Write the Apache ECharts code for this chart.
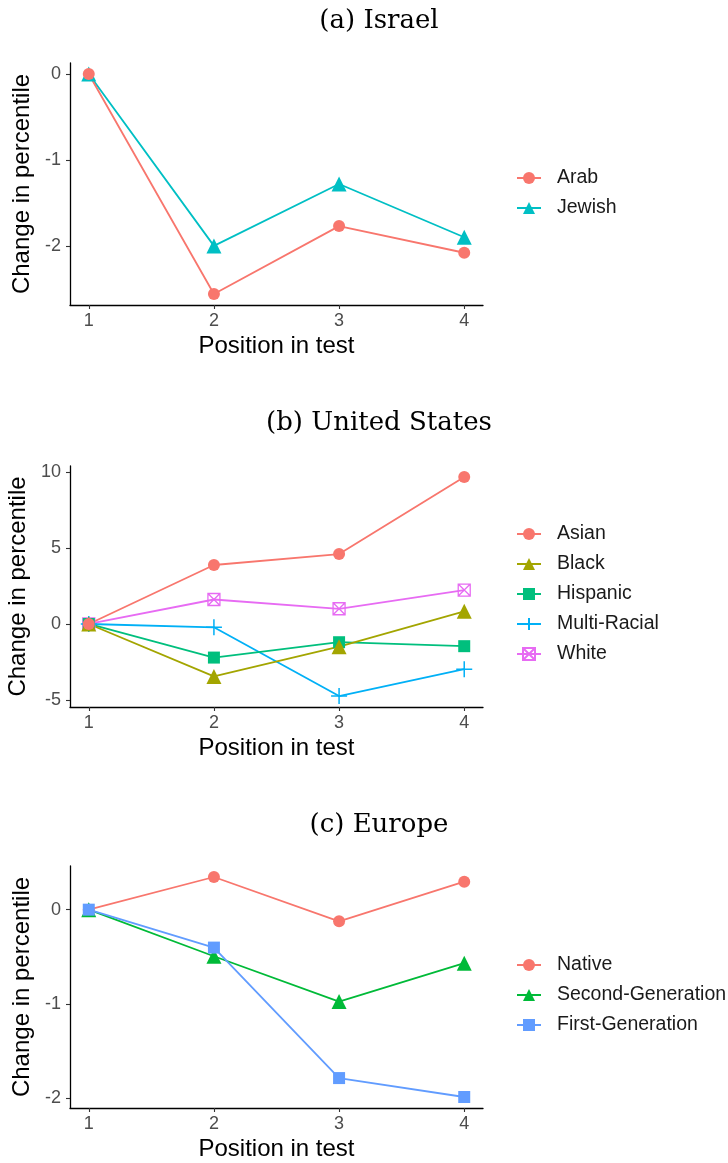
<!DOCTYPE html>
<html>
<head>
<meta charset="utf-8">
<script src="https://cdn.jsdelivr.net/npm/echarts@6/dist/echarts.min.js"></script>
<style>
html,body{margin:0;padding:0;background:#fff;}
#chart{width:728px;height:1163px;}
</style>
</head>
<body>
<div id="chart"></div>
<script>
// ---- data ----
const positions = [1, 2, 3, 4];
const xTicks = [1, 2, 3, 4];

const titleA = '(a) Israel';
const titleB = '(b) United States';
const titleC = '(c) Europe';

const israelNames = ['Arab', 'Jewish'];
const arab   = [0, -2.56, -1.77, -2.08];
const jewish = [0, -2.00, -1.28, -1.90];
const yTicksA = [0, -1, -2];

const usNames = ['Asian', 'Black', 'Hispanic', 'Multi-Racial', 'White'];
const asian    = [0, 3.88, 4.60, 9.67];
const black    = [0, -3.45, -1.49, 0.83];
const hispanic = [0, -2.21, -1.20, -1.46];
const multi    = [0, -0.22, -4.74, -2.97];
const white    = [0, 1.61, 1.00, 2.23];
const yTicksB = [10, 5, 0, -5];

const euNames = ['Native', 'Second-Generation', 'First-Generation'];
const native  = [0, 0.347, -0.124, 0.297];
const second  = [0, -0.495, -0.976, -0.569];
const first   = [0, -0.403, -1.789, -1.99];
const yTicksC = [0, -1, -2];

const xTitle = 'Position in test';
const yTitle = 'Change in percentile';

// ---- helpers ----
const pairs = vals => positions.map((p, i) => [p, vals[i]]);
function expandRange(arrs, f) {
  const all = [].concat(...arrs);
  const lo = Math.min(...all), hi = Math.max(...all);
  const pad = (hi - lo) * f;
  return [lo - pad, hi + pad];
}
const xr = [positions[0] - 0.05 * (positions[3] - positions[0]), positions[3] + 0.05 * (positions[3] - positions[0])];

const SANS = 'Liberation Sans, Arial, sans-serif';
const SERIF = 'DejaVu Serif, serif';

const PLUS = 'path://M5,0L5,10M0,5L10,5';
const SQX = 'path://M0,0L10,0L10,10L0,10ZM0,0L10,10M10,0L0,10';

function xAxisFor(gi) {
  return {
    type: 'value', gridIndex: gi, min: xr[0], max: xr[1],
    name: xTitle, nameLocation: 'middle', nameGap: 29,
    nameTextStyle: { fontFamily: SANS, fontSize: 24, color: '#000' },
    axisLine: { show: true, onZero: false, lineStyle: { color: '#000', width: 1.3 } },
    axisTick: { show: true, length: 4, customValues: xTicks, lineStyle: { color: '#333', width: 1.1 } },
    axisLabel: { customValues: xTicks, fontFamily: SANS, fontSize: 18, color: '#4D4D4D', margin: 7 },
    splitLine: { show: false }
  };
}
function yAxisFor(gi, range, ticks) {
  return {
    type: 'value', gridIndex: gi, min: range[0], max: range[1],
    name: yTitle, nameLocation: 'middle', nameGap: 34, nameRotate: 90,
    nameTextStyle: { fontFamily: SANS, fontSize: 24, color: '#000' },
    axisLine: { show: true, onZero: false, lineStyle: { color: '#000', width: 1.3 } },
    axisTick: { show: true, length: 4, customValues: ticks, lineStyle: { color: '#333', width: 1.1 } },
    axisLabel: { customValues: ticks, fontFamily: SANS, fontSize: 18, color: '#4D4D4D', margin: 9 },
    splitLine: { show: false }
  };
}
function lineSeries(name, vals, gi, color, symbol, size, opts) {
  const s = {
    name: name, type: 'line', xAxisIndex: gi, yAxisIndex: gi,
    data: pairs(vals), symbol: symbol, symbolSize: size,
    lineStyle: { color: color, width: 1.8 },
    itemStyle: { color: color },
    emphasis: { disabled: true },
    animation: false
  };
  if (opts) Object.assign(s, opts);
  return s;
}

const rA = expandRange([arab, jewish], 0.05);
const rB = expandRange([asian, black, hispanic, multi, white], 0.05);
const rC = expandRange([native, second, first], 0.05);

const C2 = ['#F8766D', '#00BFC4'];
const C5 = ['#F8766D', '#A3A500', '#00BF7D', '#00B0F6', '#E76BF3'];
const C3 = ['#F8766D', '#00BA38', '#619CFF'];

const legendBase = {
  orient: 'vertical', left: 516, padding: 0, itemWidth: 24, itemHeight: 15, itemGap: 10,
  textStyle: { fontFamily: SANS, fontSize: 19.5, color: '#1a1a1a', lineHeight: 20, padding: [0, 0, 0, 11] },
  selectedMode: false
};

const option = {
  backgroundColor: '#fff',
  animation: false,
  title: [
    { text: titleA, left: 374, top: 3, textAlign: 'center', textStyle: { fontFamily: SERIF, fontSize: 26, fontWeight: 'normal', color: '#000' } },
    { text: titleB, left: 374, top: 405, textAlign: 'center', textStyle: { fontFamily: SERIF, fontSize: 26, fontWeight: 'normal', color: '#000' } },
    { text: titleC, left: 374, top: 807, textAlign: 'center', textStyle: { fontFamily: SERIF, fontSize: 26, fontWeight: 'normal', color: '#000' } }
  ],
  grid: [
    { left: 70, top: 63, width: 413, height: 242, containLabel: false, outerBoundsMode: 'none' },
    { left: 70, top: 466, width: 413, height: 241, containLabel: false, outerBoundsMode: 'none' },
    { left: 70, top: 866, width: 413, height: 242, containLabel: false, outerBoundsMode: 'none' }
  ],
  xAxis: [xAxisFor(0), xAxisFor(1), xAxisFor(2)],
  yAxis: [yAxisFor(0, rA, yTicksA), yAxisFor(1, rB, yTicksB), yAxisFor(2, rC, yTicksC)],
  legend: [
    Object.assign({}, legendBase, { top: 168, data: israelNames }),
    Object.assign({}, legendBase, { top: 524, data: usNames }),
    Object.assign({}, legendBase, { top: 955, data: euNames })
  ],
  series: [
    lineSeries(israelNames[1], jewish, 0, C2[1], 'triangle', 15),
    lineSeries(israelNames[0], arab, 0, C2[0], 'circle', 12),

    lineSeries(usNames[4], white, 1, C5[4], SQX, 12, { itemStyle: { color: 'rgba(0,0,0,0)', borderColor: C5[4], borderWidth: 1.3 } }),
    lineSeries(usNames[3], multi, 1, C5[3], PLUS, 16, { itemStyle: { color: 'rgba(0,0,0,0)', borderColor: C5[3], borderWidth: 1.5 } }),
    lineSeries(usNames[2], hispanic, 1, C5[2], 'rect', 12),
    lineSeries(usNames[1], black, 1, C5[1], 'triangle', 15),
    lineSeries(usNames[0], asian, 1, C5[0], 'circle', 12),

    lineSeries(euNames[0], native, 2, C3[0], 'circle', 12),
    lineSeries(euNames[1], second, 2, C3[1], 'triangle', 15),
    lineSeries(euNames[2], first, 2, C3[2], 'rect', 12)
  ]
};

const chart = echarts.init(document.getElementById('chart'), null, { renderer: 'canvas' });
chart.setOption(option);
</script>
</body>
</html>
